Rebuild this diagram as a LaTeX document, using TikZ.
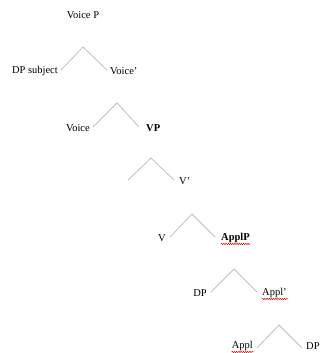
\documentclass[tikz,border=0pt]{standalone}
\usepackage{fontspec}
\setmainfont{Liberation Serif}
\usetikzlibrary{decorations.pathmorphing}
\begin{document}
\begin{tikzpicture}[x=1pt,y=-1pt,
  branch/.style={draw=black!25,line width=0.8pt},
  lbl/.style={inner sep=0pt,font=\fontsize{10.5}{12}\selectfont},
  spell/.style={draw=red!85!black,line width=0.5pt,
    decorate,decoration={snake,amplitude=0.6pt,segment length=2.2pt}}]
\useasboundingbox (0,0) rectangle (320,353);

% root label
\node[lbl] (voicep) at (83,15) {Voice P};

% branching points and daughters
\coordinate (a1) at (83,47);  \coordinate (l1) at (61,70);  \coordinate (r1) at (107,70);
\coordinate (a2) at (117,103);\coordinate (l2) at (93,127); \coordinate (r2) at (139,127);
\coordinate (a3) at (151,158);\coordinate (l3) at (128,180);\coordinate (r3) at (174,180);
\coordinate (a4) at (192,214);\coordinate (l4) at (170,237);\coordinate (r4) at (215,237);
\coordinate (a5) at (234,269);\coordinate (l5) at (211,292);\coordinate (r5) at (257,292);
\coordinate (a6) at (279,325);\coordinate (l6) at (257,348);\coordinate (r6) at (302,348);

\foreach \i in {1,...,6}{
  \draw[branch] (l\i) -- (a\i) -- (r\i);
}

% node labels
\node[lbl,anchor=east] (dpsubj) at (58,71) {DP subject};
\node[lbl,anchor=west] (voicebar) at (110,71) {Voice’};
\node[lbl,anchor=east] (voice) at (90,128) {Voice};
\node[lbl,anchor=west,font=\fontsize{10.5}{12}\selectfont\bfseries] (vp) at (146,128) {VP};
\node[lbl,anchor=west] (vbar) at (179,181) {V’};
\node[lbl,anchor=east] (v) at (166,238) {V};
\node[lbl,anchor=west,font=\fontsize{10.5}{12}\selectfont\bfseries] (applp) at (221,238) {ApplP};
\node[lbl,anchor=east] (dp1) at (207,293) {DP};
\node[lbl,anchor=west] (applbar) at (262,293) {Appl’};
\node[lbl,anchor=east] (appl) at (253,346) {Appl};
\node[lbl,anchor=west] (dp2) at (306,346) {DP};

% spell-check marks under the Appl labels
\draw[spell] (applp.south west) ++(0,1) -- ++(29,0);
\draw[spell] (applbar.south west) ++(0,1) -- ++(26,0);
\draw[spell] (appl.south west) ++(0,1) -- ++(22,0);
\end{tikzpicture}
\end{document}
